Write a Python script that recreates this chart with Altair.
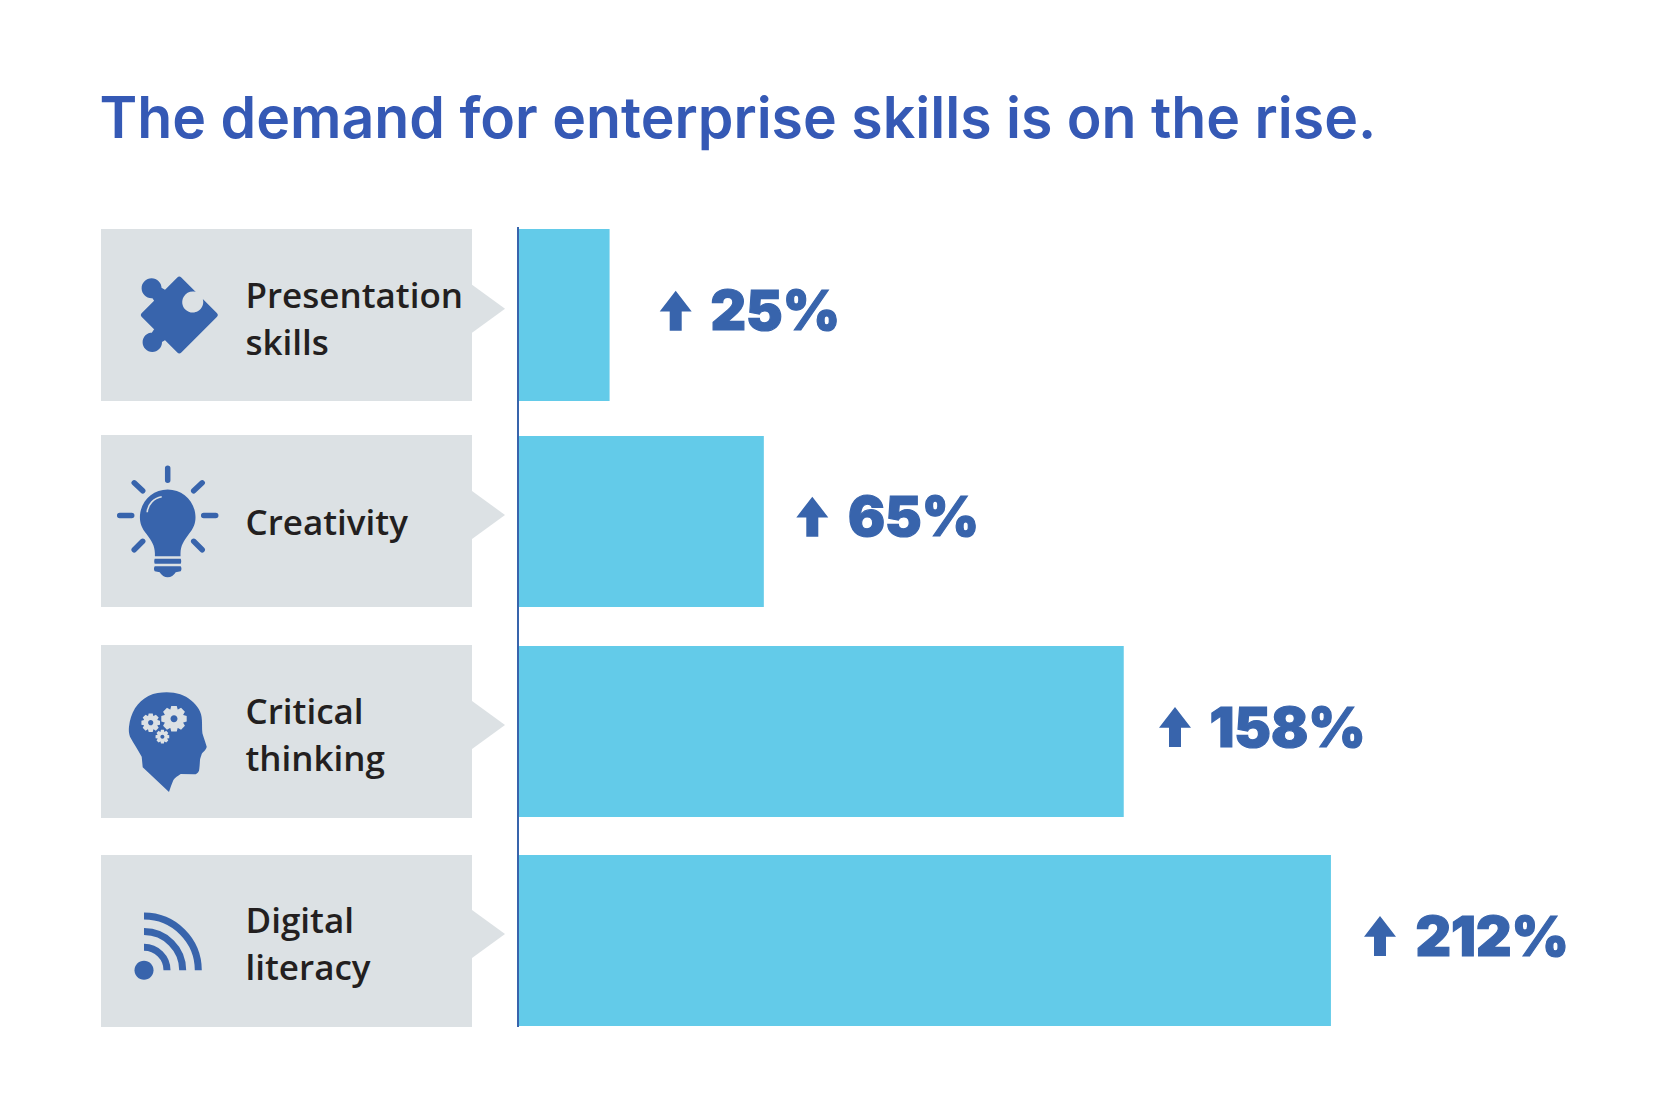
import math
import altair as alt
import pandas as pd

# ---- chart values -------------------------------------------------------
TITLE = "The demand for enterprise skills is on the rise."
skills = ["Presentation\nskills", "Creativity", "Critical\nthinking", "Digital\nliteracy"]
bar_values = [24.0, 64.2, 158.0, 212.0]
growth_labels = ["25%", "65%", "158%", "212%"]

# ---- layout (page pixels) -----------------------------------------------
row_top = [229, 436, 646, 855]
row_bottom = [401, 607, 817, 1026]
box_top = [229, 435, 645, 855]
box_bottom = [401, 607, 818, 1027]
notch_y = [308.7, 515, 725, 934]
label_y = [308, 535, 724, 933]
arrow_x = [675.7, 812.3, 1175, 1380]
arrow_y = [310.7, 516.7, 727, 936]
growth_x = [710.5, 848, 1209.5, 1415.5]
growth_y = [330, 536, 747, 956]

BLUE = "#3864ac"
TITLE_BLUE = "#3559b5"
CYAN = "#63cbe9"
BOX = "#dce1e4"
INK = "#231f20"

X0, Y0, W, H = 8, 200, 1658, 900
PX_PER_UNIT = 3.837
ZERO_PX = 517.5


def ux(px):
    return (px - ZERO_PX) / PX_PER_UNIT


x_scale = alt.Scale(domain=[ux(X0), ux(X0 + W)], range=[0, W], nice=False, zero=False)
y_scale = alt.Scale(domain=[Y0, Y0 + H], range=[0, H], nice=False, zero=False)
X = lambda f: alt.X(f, type="quantitative", scale=x_scale, axis=None)
Y = lambda f: alt.Y(f, type="quantitative", scale=y_scale, axis=None)


# ---- icon paths (pixel units, drawn at size=4 so that 1 unit = 1 px) -----
def circle(cx, cy, r, ccw=False):
    s = 0 if ccw else 1
    return (f"M{cx - r},{cy}A{r},{r} 0 1 {s} {cx + r},{cy}"
            f"A{r},{r} 0 1 {s} {cx - r},{cy}Z")


def gear(cx, cy, r_out, r_in, r_hole, teeth=8):
    pts = []
    step = 2 * math.pi / teeth
    for i in range(teeth):
        a = i * step
        for da, r in ((-0.30, r_in), (-0.17, r_out), (0.17, r_out), (0.30, r_in)):
            pts.append((cx + r * math.cos(a + da * step * 1.6),
                        cy + r * math.sin(a + da * step * 1.6)))
    d = "M" + "L".join(f"{x:.2f},{y:.2f}" for x, y in pts) + "Z"
    return d + circle(cx, cy, r_hole, ccw=True)


PUZZLE = ("M-2,-37.5Q0,-39.5 2,-37.5L16.5,-23A10.5,10.5 0 1 0 23.5,-16"
          "L37.5,-2Q39.5,0 37.5,2L2,37.5Q0,39.5 -2,37.5L-37.5,2Q-39.5,0 -37.5,-2Z"
          "M-24,-31L-14,-25L-25,-14L-31,-23Z"
          "M-24,31L-31,23L-25,14L-14,25Z"
          + circle(-27.7, -26.7, 10) + circle(-27, 27.3, 9.7))
BULB = ("M-12.8,36C-13,28 -16,24 -21,17C-26,11 -27.8,6 -27.8,0"
        "A27.8,27.8 0 0 1 27.8,0C27.8,6 26,11 21,17C16,24 13,28 12.8,36"
        "L12.8,39L-12.8,39Z"
        "M-13,41.5L13,41.5Q14,44 13,46.5L-13,46.5Q-14,44 -13,41.5Z"
        "M-13,49L13,49Q14.5,51.5 13,54L8,55Q5,60 0,60Q-5,60 -8,55L-13,54Q-14.5,51.5 -13,49Z")
BULB_SHINE = "M-20.5,-5C-20,-13 -14,-19 -6,-20.5"
RAYS = ("M0,-49L0,-37M-48,-1.7L-36,-1.7M36,-1.7L48,-1.7"
        "M-33.5,-34.5L-25,-26.5M34.5,-34.5L26,-26.5"
        "M-25,24L-33.5,32.5M26,24L34.5,32.5")
HEAD = ("M0,-47.7C10,-47.7 18,-45 24.5,-39.5C31,-34 35,-28 35.2,-20"
        "C35.5,-15 35.2,-11 35.7,-6.7C37,-2 39,3 40,6.7C39.5,10 36,12 35,14"
        "C34.5,16 33.5,18 33.3,20C33,24 33,27 32.3,30.7C31,33.5 29,34.5 27.3,34.3"
        "L14,34C11,36 8.5,37.5 6.7,40C5,44 3.5,48 2.3,52L-24,27.3L-25,16.7"
        "C-29,9 -33,4 -36.7,-3.3C-38,-7 -38,-10 -37.7,-13.3C-37,-20 -35,-26 -31.7,-31.7"
        "C-28,-37 -24,-41 -18.3,-44C-12,-47 -6,-47.7 0,-47.7Z")
GEARS = (gear(7.3, -21.3, 13, 10, 3.5) + gear(-16, -17.3, 9.5, 7.2, 2.6)
         + gear(-4.3, -3.3, 7, 5.2, 2))
WIFI = ("M0,-23A23,23 0 0 1 23,0M0,-38.7A38.7,38.7 0 0 1 38.7,0"
        "M0,-54.3A54.3,54.3 0 0 1 54.3,0")
ARROW = "M0,-20L16,0.7L6,0.7L6,20L-6,20L-6,0.7L-16,0.7Z"
NOTCH = "M0,-24L33,0L0,24Z"


def icon(path, px, py, color, stroke_width=None, cap="butt"):
    data = pd.DataFrame({"x": [ux(px)], "y": [py]})
    kw = dict(shape=path, size=4, opacity=1)
    if stroke_width is None:
        m = alt.Chart(data).mark_point(filled=True, fill=color, strokeWidth=0, **kw)
    else:
        m = alt.Chart(data).mark_point(filled=False, stroke=color, fill="transparent",
                                       strokeWidth=stroke_width, strokeCap=cap, **kw)
    return m.encode(x=X("x"), y=Y("y"))


# ---- tables -------------------------------------------------------------
rows = pd.DataFrame({
    "skill": skills,
    "value": bar_values,
    "zero": 0,
    "top": row_top,
    "bottom": row_bottom,
    "box_top": box_top,
    "box_bottom": box_bottom,
    "box_left": ux(101),
    "box_right": ux(472),
    "notch_y": notch_y,
    "label_x": ux(245.5),
    "label_y": label_y,
    "arrow_x": [ux(v) for v in arrow_x],
    "arrow_y": arrow_y,
    "growth": growth_labels,
    "growth_x": [ux(v) for v in growth_x],
    "growth_y": growth_y,
})
base = alt.Chart(rows)

boxes = base.mark_rect(color=BOX).encode(
    x=X("box_left"), x2="box_right", y=Y("box_top"), y2="box_bottom")
notches = base.mark_point(shape=NOTCH, size=4, filled=True, fill=BOX, strokeWidth=0, opacity=1).encode(
    x=X("box_right"), y=Y("notch_y"))
labels = base.mark_text(align="left", baseline="alphabetic", font="Open Sans", fontSize=35,
                        fontWeight=600, color=INK, lineBreak="\n", lineHeight=46.5).encode(
    x=X("label_x"), y=Y("label_y"), text="skill:N")

bars = base.mark_rect(color=CYAN).encode(
    x=X("zero"), x2="value", y=Y("top"), y2="bottom")
axis_line = alt.Chart(pd.DataFrame({"x": [ux(518)], "y": [227], "y2": [1027]})).mark_rule(
    color=BLUE, strokeWidth=2).encode(x=X("x"), y=Y("y"), y2="y2")

arrows = base.mark_point(shape=ARROW, size=4, filled=True, fill=BLUE, strokeWidth=0, opacity=1).encode(
    x=X("arrow_x"), y=Y("arrow_y"))
growth = base.mark_text(align="left", baseline="alphabetic", font="Inter", fontSize=55,
                        fontWeight=900, color=BLUE, stroke=BLUE, strokeWidth=1.2).encode(
    x=X("growth_x"), y=Y("growth_y"), text="growth:N")

icons = [
    icon(PUZZLE, 179.3, 315, BLUE),
    icon(BULB, 167.7, 517.3, BLUE),
    icon(BULB_SHINE, 167.7, 517.3, BOX, 1.6),
    icon(RAYS, 167.7, 517.3, BLUE, 5.5, "round"),
    icon(HEAD, 166.7, 740, BLUE),
    icon(GEARS, 166.7, 740, BOX),
    icon(circle(0, 0, 9.5), 144, 970.3, BLUE),
    icon(WIFI, 144, 970.3, BLUE, 7),
]

chart = alt.layer(boxes, notches, bars, axis_line, *icons, labels, arrows, growth).properties(
    width=W,
    height=H,
    title=alt.TitleParams(TITLE, anchor="start", frame="group", dx=91.5, offset=4.5,
                          font="Inter", fontSize=57.2, fontWeight=600, color=TITLE_BLUE,
                          baseline="alphabetic"),
    padding={"left": 0, "right": 0, "top": Y0 - 8, "bottom": 0},
    autosize=alt.AutoSizeParams(type="none"),
).configure_view(stroke=None)

chart.save("out.html", embed_options={"renderer": "svg", "actions": False})
